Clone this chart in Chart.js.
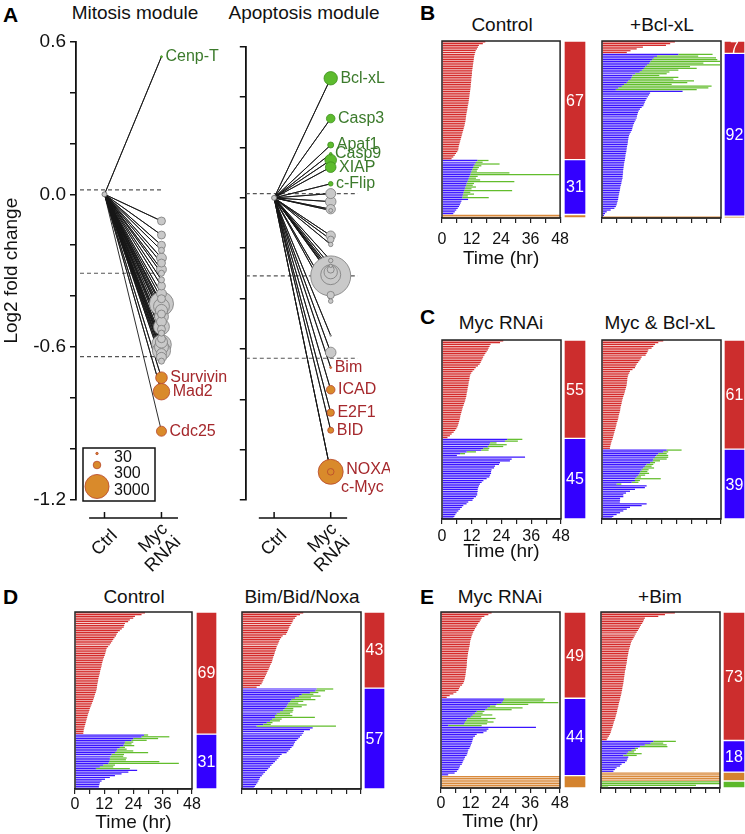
<!DOCTYPE html>
<html>
<head>
<meta charset="utf-8">
<script src="https://cdn.jsdelivr.net/npm/chart.js@4.4.0/dist/chart.umd.min.js"></script>
<style>
  body { margin: 0; background: #fff; font-family: 'Liberation Sans', Arial, Helvetica, sans-serif; }
  #page { position: relative; width: 745px; height: 834px; overflow: hidden; background: #fff; }
  .t { position: absolute; white-space: nowrap; color: #111; font-size: 19px; line-height: 1; transform: translate(-50%, -50%); }
  .p { position: absolute; white-space: nowrap; color: #000; font-size: 21px; font-weight: bold; line-height: 1; transform: translateY(-50%); }
  canvas { position: absolute; }
</style>
</head>
<body>
<div id="page">
  <div class="p" style="left:3px; top:14px;">A</div>
  <div class="t" style="left:135px; top:12px;">Mitosis module</div>
  <div class="t" style="left:304px; top:12px;">Apoptosis module</div>

  <div class="p" style="left:420px; top:12px;">B</div>
  <div class="t" style="left:502px; top:24px;">Control</div>
  <div class="t" style="left:662px; top:24px;">+Bcl-xL</div>

  <div class="p" style="left:420px; top:316px;">C</div>
  <div class="t" style="left:501px; top:322px;">Myc RNAi</div>
  <div class="t" style="left:660px; top:322px;">Myc &amp; Bcl-xL</div>

  <div class="p" style="left:3px; top:596px;">D</div>
  <div class="t" style="left:134px; top:596px;">Control</div>
  <div class="t" style="left:302px; top:596px;">Bim/Bid/Noxa</div>

  <div class="p" style="left:420px; top:596px;">E</div>
  <div class="t" style="left:500px; top:596px;">Myc RNAi</div>
  <div class="t" style="left:660px; top:596px;">+Bim</div>
</div>
<script>
// ---------- panel A: log2 fold change after Myc RNAi ----------
const groups = ['Ctrl', 'Myc RNAi'];
const yLabelTicks = [0.6, 0.0, -0.6, -1.2];
const thresholds = [0.017, -0.31, -0.637];
const legendSizes = [30, 300, 3000];

const mitoUpNames = ['Cenp-T'];
const mitoUpValues = [0.54];
const mitoUpSizes = [20];
const mitoMidValues = [-0.105, -0.16, -0.2, -0.22, -0.25, -0.27, -0.295, -0.31, -0.336, -0.36,
  -0.39, -0.41, -0.43, -0.44, -0.456, -0.47, -0.48, -0.5, -0.52, -0.53,
  -0.545, -0.567, -0.58, -0.59, -0.6, -0.614, -0.625, -0.64, -0.655];
const mitoMidSizes = [330, 330, 330, 190, 500, 330, 500, 190, 190, 330,
  500, 330, 3000, 1300, 750, 330, 1000, 500, 1300, 330,
  190, 330, 750, 2000, 1000, 1700, 500, 500, 190];
const mitoDownNames = ['Survivin', 'Mad2', 'Cdc25'];
const mitoDownValues = [-0.72, -0.775, -0.93];
const mitoDownSizes = [700, 1400, 520];

const apopUpNames = ['Bcl-xL', 'Casp3', 'Apaf1', 'Casp9', '', 'XIAP', 'c-Flip'];
const apopUpValues = [0.475, 0.315, 0.21, 0.175, 0.15, 0.122, 0.056];
const apopUpSizes = [925, 380, 186, 35, 700, 580, 110];
const apopMidValues = [0.017, -0.015, -0.045, -0.05, -0.15, -0.165, -0.185, -0.249, -0.31, -0.305,
  -0.295, -0.285, -0.27, -0.386, -0.41, -0.547, -0.614];
const apopMidSizes = [516, 580, 450, 80, 450, 225, 100, 100, 8264, 2066,
  925, 250, 60, 280, 110, 13, 580];
const apopDownNames = ['Bim', 'ICAD', 'E2F1', 'BID', 'NOXA', 'c-Myc'];
const apopDownValues = [-0.674, -0.762, -0.853, -0.923, -1.088, -1.088];
const apopDownSizes = [20, 380, 280, 186, 3230, 225];

// ---------- panels B-E: single cell fates (hours), one row per cell ----------
const bCtrlRed = [17.6,16.6,15.0,14.6,14.2,13.7,13.5,13.3,13.1,13.0,12.9,12.8,12.7,12.6,12.5,12.4,12.3,12.2,12.2,12.1,
  12.0,11.9,11.9,11.8,11.7,11.7,11.6,11.5,11.4,11.3,11.2,11.1,11.0,10.9,10.8,10.7,10.5,10.4,10.3,10.2,
  10.0,9.9,9.8,9.7,9.6,9.5,9.3,9.2,9.0,8.8,8.6,8.4,8.2,8.0,7.8,7.6,7.4,7.2,7.0,6.8,6.7,6.6,6.2,5.7,5.2,4.6,3.9];
const bCtrlBlue = [14.4,13.8,13.3,12.9,12.6,12.3,12.0,11.7,11.5,11.2,10.9,10.6,10.3,10.0,9.8,9.5,9.3,9.0,8.8,8.6,
  8.4,8.2,10.6,7.9,7.6,7.3,6.9,6.4,5.8,5.2,4.6];
const bCtrlGreen = [18.9,16.5,23.4,16.0,15.0,14.5,14.2,27.4,47.6,14.5,13.8,15.5,29.4,13.0,12.5,13.8,12.0,28.5,11.5,13.0,
  10.5,19.0];
const bCtrlOrange = [48, 48];

const bBclRed = [29.4, 27.5, 25.8, 16.5, 14.0, 11.5, 10.0];
const bBclBlue = [30.8,22.2,20.9,20.2,19.5,19.1,18.2,17.5,16.9,16.1,15.2,13.4,12.3,12.0,11.6,10.6,10.0,8.9,8.0,6.6,5.6,
  32.5,19.4,19.0,18.5,18.0,17.6,17.3,17.0,16.7,16.0,15.3,14.8,14.5,14.3,14.1,14.0,13.6,13.2,12.9,12.6,12.4,
  12.2,12.0,11.6,11.2,10.9,10.7,10.6,10.5,10.4,10.3,10.1,10.0,9.9,9.8,9.6,9.5,9.4,9.3,9.2,9.0,
  8.9,8.8,8.7,8.6,8.5,8.5,8.4,8.3,8.3,8.1,7.9,7.8,7.6,7.4,7.3,7.2,7.0,6.9,6.7,6.6,
  6.5,6.3,6.1,5.9,5.6,5.0,3.5,1.9,1.2,0.8];
const bBclGreen = [44.6,38.8,46.0,46.5,47.6,40.9,47.6,35.5,38.2,30.8,27.2,26.1,23.1,30.8,28.8,37.1,34.4,28.1,44.2,42.9,38.2];
const bBclOrange = [48];

const cMycRed = [24.7,23.4,19.6,19.2,18.8,18.5,18.0,17.5,17.1,16.6,16.3,15.9,15.6,15.2,14.5,13.6,13.0,12.3,11.8,11.4,
  11.2,11.1,11.0,10.8,10.7,10.6,10.4,10.3,10.2,10.0,9.9,9.8,9.6,9.4,9.2,8.9,8.7,8.4,8.2,8.0,
  7.8,7.6,7.4,7.3,7.1,6.9,6.7,6.5,6.2,5.8,5.3,4.7,3.9,3.2,2.2];
const cMycBlue = [26.3,25.4,19.4,19.0,18.5,16.7,15.8,9.9,7.3,6.0,33.5,28.1,27.4,23.4,23.0,21.4,21.0,20.0,19.8,19.8,
  19.4,19.1,18.0,16.7,16.0,15.3,14.9,14.6,14.4,14.4,14.2,14.2,13.7,12.8,12.3,10.6,9.9,8.6,8.0,7.3,
  6.6,5.9,5.4,5.0,4.6];
const cMycGreen = [32.4,30.6,22.0,26.1,24.7,19.1,18.8,13.7,9.3];

const cBclRed = [24.7,22.7,21.4,20.7,20.0,18.7,18.4,18.0,17.6,16.0,15.6,15.1,14.6,14.0,13.6,13.3,12.3,11.3,11.0,10.6,
  10.4,10.2,10.2,10.1,10.0,9.9,9.7,9.5,9.3,9.1,8.9,8.6,8.4,8.2,8.0,7.9,7.7,7.5,7.4,7.3,
  7.1,6.9,6.7,6.6,6.4,6.2,5.9,5.8,5.6,5.4,5.2,5.0,4.8,4.6,4.4,4.2,3.9,3.7,3.5,3.3,3.2];
const cBclBlue = [26.1,24.7,22.7,22.0,21.4,20.7,20.5,19.4,18.0,17.4,16.7,16.0,15.4,15.1,14.7,14.0,13.3,13.3,12.0,5.9,
  18.0,17.3,13.3,11.3,9.7,8.6,8.6,7.3,7.3,7.2,18.0,16.0,11.3,10.0,8.6,7.3,5.9,4.6,4.0];
const cBclGreen = [32.1,26.7,26.1,26.7,26.7,26.1,23.4,21.4,20.7,20.0,21.0,18.8,18.3,19.0,17.4,15.7,23.7,15.3,14.7,7.8];

const dCtrlRed = [28.7,27.3,24.6,23.9,22.5,21.8,20.5,20.2,20.0,19.2,18.4,17.6,17.1,16.8,16.2,15.7,15.3,14.8,14.3,13.6,
  13.0,12.8,12.6,12.4,12.2,11.9,11.6,11.4,11.2,11.0,10.9,10.7,10.5,10.3,10.2,10.0,9.8,9.6,9.5,9.4,
  9.2,9.1,9.0,8.9,8.7,8.5,8.2,8.0,7.8,7.5,7.3,7.0,6.7,6.4,6.1,5.9,5.7,5.4,5.2,5.0,
  4.8,4.6,4.4,4.2,4.0,3.8,3.6,3.5,3.4];
const dCtrlBlue = [28.3,27.3,23.9,23.2,20.5,20.2,19.9,18.4,17.4,17.1,16.4,15.0,14.6,14.3,14.3,14.0,13.7,11.6,10.2,8.6,
  25.5,21.9,19.1,16.4,14.3,12.3,10.9,10.2,10.0,9.8,9.8];
const dCtrlGreen = [30.0,38.7,34.1,29.4,23.9,23.2,24.3,20.5,21.2,23.9,30.0,20.1,19.8,21.2,20.9,34.6,42.6,16.4,15.7,22.5];

const dBimRed = [24.7,23.4,22.0,21.4,20.7,20.4,20.0,19.6,19.1,18.8,18.5,18.2,17.8,16.4,15.8,15.3,15.0,14.7,14.4,14.0,
  13.8,13.6,13.3,13.1,12.9,12.6,12.4,12.2,12.0,11.6,11.3,11.0,10.7,10.3,10.0,9.7,9.3,9.0,8.6,8.3,
  7.9,7.2,5.9];
const dBimBlue = [30.1,29.6,27.4,24.1,23.0,21.4,20.0,19.4,18.7,18.3,18.0,17.3,16.6,15.3,14.0,13.3,13.3,12.2,11.3,10.0,8.6,5.9,
  28.5,27.4,25.0,24.7,24.1,23.4,22.7,22.0,21.4,21.0,20.7,20.0,19.4,18.7,18.0,16.0,15.3,14.7,14.0,13.3,
  12.6,11.9,11.3,10.6,10.0,9.3,8.6,8.0,7.3,7.0,6.6,6.2,5.7,5.2,4.8];
const dBimGreen = [36.8,33.5,30.8,28.8,31.7,27.8,29.6,24.7,22.7,26.1,24.1,20.7,20.7,20.4,19.4,20.3,29.4,16.0,15.3,12.3,11.6,37.9];

const eMycRed = [20.4,19.1,17.5,16.4,16.0,15.6,15.0,14.6,14.2,13.7,13.4,13.0,12.7,12.4,12.2,12.0,11.8,11.7,11.6,11.5,
  11.3,11.2,11.0,10.9,10.8,10.7,10.6,10.5,10.5,10.4,10.4,10.3,10.2,10.1,10.0,9.9,9.8,9.7,9.5,9.3,
  9.0,8.5,7.7,7.3,7.0,6.2,5.0,3.5,2.3];
const eMycBlue = [25.4,25.0,24.5,22.5,19.8,18.8,18.0,14.4,13.7,12.8,12.0,10.6,10.2,9.7,9.3,2.9,
  38.3,19.1,18.4,17.1,14.4,13.7,13.0,12.8,12.6,12.4,12.1,11.8,11.5,11.0,10.8,10.6,10.3,9.7,9.4,9.0,
  8.7,8.4,7.7,7.4,7.0,6.4,5.5,2.9];
const eMycGreen = [41.9,41.3,47.3,35.2,22.0,32.9,28.5,17.5,16.8,20.7,16.2,22.0,18.8,21.2,18.6,16.4];
const eMycOrange = [48, 48, 48, 48, 48, 48, 48];

const eBimRed = [29.8,25.8,23.1,17.7,17.3,17.0,16.6,16.1,15.7,15.3,14.9,14.4,14.0,13.6,13.2,12.8,12.4,12.1,11.9,11.7,
  11.5,11.3,11.1,11.0,10.9,10.7,10.6,10.5,10.4,10.3,10.1,10.0,9.9,9.7,9.6,9.5,9.4,9.3,9.2,9.1,
  9.0,8.9,8.7,8.6,8.5,8.3,8.2,8.0,7.8,7.7,7.5,7.3,7.1,7.0,6.8,6.6,6.5,6.3,6.1,5.9,
  5.7,5.5,5.2,5.0,4.8,4.6,4.3,4.1,3.9,3.6,3.2,2.7,2.3];
const eBimBlue = [21.1,20.0,17.7,15.7,13.7,12.4,11.0,10.4,9.0,11.0,10.7,10.4,9.7,8.3,7.7,6.3,5.6,5.0];
const eBimGreen = [30.2,25.1,26.5,26.8,14.9,14.1,13.4,16.4,14.4];
const eBimOrange = [48, 48, 48, 48, 48];
const eBimLate = [48, 48, 38.3, 2.9];

// percentages (red, blue, orange, green)
const bCtrlPct = [67, 31, 2];
const bBclPct = [7, 92, 1];
const cMycPct = [55, 45];
const cBclPct = [61, 39];
const dCtrlPct = [69, 31];
const dBimPct = [43, 57];
const eMycPct = [49, 44, 7];
const eBimPct = [73, 18, 5, 4];

// ---------- drawing ----------
const FONT = "'Liberation Sans', Arial, Helvetica, sans-serif";
Chart.defaults.font.family = FONT;
Chart.defaults.color = '#111';

const GRAY = '#c9c9c9', GRAY_EDGE = '#7a7a7a';
const GREEN = '#5dbb2e', GREEN_EDGE = '#3d8f1d', GREEN_TEXT = '#3b7a2b';
const ORANGE = '#d98a2b', ORANGE_EDGE = '#b8462c', RED_TEXT = '#a5282c';
const ROW = { red: '#d42a2a', blue: '#3a14ff', green: '#62bd2c', orange: '#d98a3c' };
const PCT = ['#cc2d2d', '#3300ff', '#d4832e', '#5cb82a'];

const radius = s => 0.22 * Math.sqrt(s);
const page = document.getElementById('page');

function addCanvas(left, top, w, h) {
  const c = document.createElement('canvas');
  c.width = w; c.height = h;
  c.style.left = left + 'px'; c.style.top = top + 'px';
  c.style.width = w + 'px'; c.style.height = h + 'px';
  page.appendChild(c);
  return c;
}

function bubbles(values, sizes, fill, edge) {
  const pts = values.map((v, i) => ({ x: 1, y: v, r: radius(sizes[i]) }));
  pts.sort((a, b) => b.r - a.r);
  return { type: 'bubble', data: pts, backgroundColor: fill, borderColor: edge, borderWidth: 0.8, order: 1 };
}

// gene names next to the Myc RNAi points
const labelNudge = { 'NOXA': [0, -2], 'c-Myc': [4, 16] };
const geneLabels = {
  id: 'geneLabels',
  afterDatasetsDraw(chart, args, opts) {
    const { ctx, scales: { x, y } } = chart;
    ctx.save();
    ctx.font = '16px ' + FONT;
    ctx.textAlign = 'left';
    ctx.textBaseline = 'middle';
    opts.items.forEach(it => {
      if (!it.name) return;
      const n = labelNudge[it.name] || [0, 0];
      ctx.fillStyle = it.color;
      ctx.fillText(it.name, x.getPixelForValue(1) + radius(it.size) + 3 + n[0], y.getPixelForValue(it.value) + n[1]);
    });
    ctx.restore();
  }
};

// x axis drawn below the plot, offset from the y range
const detachedAxis = {
  id: 'detachedAxis',
  afterDraw(chart) {
    const { ctx, chartArea, scales: { x } } = chart;
    const yb = chartArea.bottom + 18;
    ctx.save();
    ctx.strokeStyle = '#111';
    ctx.lineWidth = 1.5;
    ctx.beginPath();
    ctx.moveTo(x.getPixelForValue(-0.27), yb);
    ctx.lineTo(x.getPixelForValue(1.29), yb);
    groups.forEach((g, i) => {
      const px = x.getPixelForValue(i);
      ctx.moveTo(px, yb);
      ctx.lineTo(px, yb - 6);
    });
    ctx.stroke();
    ctx.fillStyle = '#111';
    ctx.font = '18px ' + FONT;
    ctx.textAlign = 'right';
    ctx.textBaseline = 'middle';
    groups.forEach((g, i) => {
      const lines = g.split(' ');
      ctx.save();
      ctx.translate(x.getPixelForValue(i) + 10, yb + 15);
      ctx.rotate(-Math.PI / 4);
      lines.forEach((ln, k) => ctx.fillText(ln, 0, (k - (lines.length - 1) / 2) * 18.4));
      ctx.restore();
    });
    ctx.restore();
  }
};

const sizeLegend = {
  id: 'sizeLegend',
  afterDraw(chart, args, opts) {
    if (!opts.show) return;
    const { ctx, chartArea: a } = chart;
    const L = a.left + 7, T = a.bottom - 52;
    ctx.save();
    ctx.fillStyle = '#fff';
    ctx.fillRect(L, T, 72, 53);
    ctx.strokeStyle = '#111';
    ctx.lineWidth = 1.5;
    ctx.strokeRect(L, T, 72, 53);
    const cy = [5.5, 17, 38.5], ty = [9.5, 25.5, 42.5];
    ctx.font = '16px ' + FONT;
    ctx.textBaseline = 'middle';
    legendSizes.forEach((s, i) => {
      ctx.beginPath();
      ctx.arc(L + 14, T + cy[i], radius(s), 0, Math.PI * 2);
      ctx.fillStyle = ORANGE;
      ctx.fill();
      ctx.strokeStyle = ORANGE_EDGE;
      ctx.lineWidth = 0.8;
      ctx.stroke();
      ctx.fillStyle = '#111';
      ctx.fillText(String(s), L + 31, T + ty[i]);
    });
    ctx.restore();
  }
};

function moduleChart(o) {
  const cv = addCanvas(o.left, 26, o.width, 564);
  const all = [...o.up, ...o.mid, ...o.down];
  const zig = [];
  all.forEach(v => { zig.push({ x: 0, y: 0 }); zig.push({ x: 1, y: v }); });
  const dashSets = thresholds.map(t => ({
    type: 'line', data: [{ x: o.dashX[0], y: t }, { x: o.dashX[1], y: t }],
    borderColor: '#555', borderWidth: 1.2, borderDash: [4, 3], pointRadius: 0, order: 4
  }));
  const items = [
    ...o.upNames.map((n, i) => ({ name: n, value: o.up[i], size: o.upSizes[i], color: GREEN_TEXT })),
    ...o.downNames.map((n, i) => ({ name: n, value: o.down[i], size: o.downSizes[i], color: RED_TEXT }))
  ];
  new Chart(cv, {
    type: 'bubble',
    data: {
      datasets: [
        ...dashSets,
        { type: 'line', data: zig, borderColor: '#161616', borderWidth: 0.9, pointRadius: 0, tension: 0, order: 3 },
        bubbles(o.mid, o.midSizes, GRAY, GRAY_EDGE),
        bubbles(o.up, o.upSizes, GREEN, GREEN_EDGE),
        bubbles(o.down, o.downSizes, ORANGE, ORANGE_EDGE),
        { type: 'bubble', data: [{ x: 0, y: 0, r: 2.5 }], backgroundColor: GRAY, borderColor: '#666', borderWidth: 0.8, order: 0 }
      ]
    },
    options: {
      responsive: false, animation: false, devicePixelRatio: 1,
      layout: { padding: { left: o.padLeft, right: o.padRight, top: 15, bottom: 90 } },
      plugins: {
        legend: { display: false }, tooltip: { enabled: false },
        geneLabels: { items },
        sizeLegend: { show: o.legend }
      },
      scales: {
        x: { type: 'linear', min: -0.5, max: 1.65, display: false },
        y: {
          min: -1.2, max: 0.6,
          ticks: {
            stepSize: 0.2, autoSkip: false, display: o.yLabels, font: { size: 19 }, padding: 4, color: '#111',
            callback: v => yLabelTicks.some(t => Math.abs(t - v) < 1e-6) ? (Math.abs(v) < 1e-9 ? '0.0' : v.toFixed(1)) : ''
          },
          grid: { drawOnChartArea: false, drawTicks: true, tickLength: 6, color: '#111', lineWidth: 1.5 },
          border: { display: true, color: '#111', width: 1.8 },
          title: { display: o.yLabels, text: 'Log2 fold change', font: { size: 19 }, padding: 0, color: '#111' },
          afterFit: s => { s.width = o.yWidth; }
        }
      }
    },
    plugins: [geneLabels, detachedAxis, sizeLegend]
  });
}

moduleChart({
  left: 0, width: 240, padLeft: 0, padRight: 41.5, yWidth: 76, yLabels: true, legend: true,
  dashX: [-0.43, 1.03],
  up: mitoUpValues, upSizes: mitoUpSizes, upNames: mitoUpNames,
  mid: mitoMidValues, midSizes: mitoMidSizes,
  down: mitoDownValues, downSizes: mitoDownSizes, downNames: mitoDownNames
});
moduleChart({
  left: 225, width: 165, padLeft: 10, padRight: 22.5, yWidth: 10, yLabels: false, legend: false,
  dashX: [-0.5, 1.48],
  up: apopUpValues, upSizes: apopUpSizes, upNames: apopUpNames,
  mid: apopMidValues, midSizes: apopMidSizes,
  down: apopDownValues, downSizes: apopDownSizes, downNames: apopDownNames
});

// ---------- cell fate plots ----------
const frame = {
  id: 'frame',
  afterDatasetsDraw(chart) {
    const { ctx, chartArea: a } = chart;
    ctx.save();
    ctx.strokeStyle = '#222';
    ctx.lineWidth = 1.5;
    ctx.strokeRect(a.left, a.top, a.right - a.left, a.bottom - a.top);
    ctx.restore();
  }
};

function rowSet(rows, color, pick) {
  return {
    data: rows.map(pick), backgroundColor: color, borderWidth: 0,
    grouped: false, barPercentage: 0.7, categoryPercentage: 1
  };
}

function fateChart(box, ax, red, blue, green, orange, late, showLabels) {
  const padL = 15, padR = 15, padT = 2, padB = 2;
  const cv = addCanvas(box.x - padL, box.y - padT, box.w + padL + padR, box.h + padT + ax.h + padB);
  const rows = [];
  red.forEach(v => rows.push({ k: 'red', b: v }));
  blue.forEach((v, j) => rows.push({ k: 'blue', b: v, g: green[j] || 0 }));
  orange.forEach(v => rows.push({ k: 'orange', b: v }));
  late.forEach(v => rows.push({ k: 'late', b: v }));
  new Chart(cv, {
    type: 'bar',
    data: {
      labels: rows.map((r, i) => i + 1),
      datasets: [
        rowSet(rows, ROW.red, r => r.k === 'red' ? [0, r.b] : null),
        rowSet(rows, ROW.blue, r => r.k === 'blue' ? [0, r.b] : null),
        rowSet(rows, ROW.green, r => r.k === 'blue' && r.g > r.b ? [r.b, r.g] : (r.k === 'late' ? [0, r.b] : null)),
        rowSet(rows, ROW.orange, r => r.k === 'orange' ? [0, r.b] : null)
      ]
    },
    options: {
      indexAxis: 'y', responsive: false, animation: false, devicePixelRatio: 1,
      layout: { padding: { left: padL, right: padR, top: padT, bottom: padB } },
      plugins: { legend: { display: false }, tooltip: { enabled: false } },
      scales: {
        y: { type: 'category', display: false },
        x: {
          type: 'linear', min: 0, max: 48,
          ticks: {
            stepSize: 6, autoSkip: false, maxRotation: 0, font: { size: 16 }, padding: ax.pad, color: '#111',
            callback: v => showLabels && v % 12 === 0 ? String(v) : ''
          },
          grid: { drawOnChartArea: false, drawTicks: true, tickLength: 5, color: '#222', lineWidth: 1.2 },
          border: { display: true, color: '#222', width: 1.5 },
          title: { display: showLabels, text: 'Time (hr)', font: { size: 19 }, padding: { top: 0, bottom: 0 }, color: '#111' },
          afterFit: s => { s.height = ax.h; }
        }
      }
    },
    plugins: [frame]
  });
}

const pctLabels = {
  id: 'pctLabels',
  afterDatasetsDraw(chart) {
    const { ctx } = chart;
    ctx.save();
    ctx.fillStyle = '#fff';
    ctx.font = '16px ' + FONT;
    ctx.textAlign = 'center';
    ctx.textBaseline = 'middle';
    [0, 1].forEach(i => {
      const ds = chart.data.datasets[i];
      const el = chart.getDatasetMeta(i).data[0];
      if (!ds || !el) return;
      ctx.fillText(String(ds.data[0]), el.x, (el.y + el.base) / 2 + 1);
    });
    ctx.restore();
  }
};

function pctChart(x, w, box, values) {
  const cv = addCanvas(x, box.y, w, box.h);
  const total = values.reduce((a, b) => a + b, 0);
  new Chart(cv, {
    type: 'bar',
    data: {
      labels: [''],
      datasets: values.map((v, i) => ({
        data: [v], backgroundColor: PCT[i], borderColor: 'rgba(255,255,255,0.6)', borderWidth: 1,
        borderSkipped: false, barPercentage: 1, categoryPercentage: 1
      }))
    },
    options: {
      responsive: false, animation: false, devicePixelRatio: 1,
      layout: { padding: 0 },
      plugins: { legend: { display: false }, tooltip: { enabled: false } },
      scales: {
        x: { display: false, stacked: true },
        y: { display: false, stacked: true, min: 0, max: total, reverse: true }
      }
    },
    plugins: [pctLabels]
  });
}

const axB = { pad: 7, h: 52 }, axC = { pad: 3, h: 44 }, axD = { pad: 1, h: 45 };
const boxB1 = { x: 442, y: 41, w: 119, h: 177 }, boxB2 = { x: 602, y: 41, w: 119, h: 177 };
const boxC1 = { x: 442, y: 340, w: 119, h: 179 }, boxC2 = { x: 602, y: 340, w: 119, h: 179 };
const boxD1 = { x: 75, y: 612, w: 117, h: 177 }, boxD2 = { x: 242, y: 612, w: 119, h: 177 };
const boxE1 = { x: 441, y: 612, w: 119, h: 176 }, boxE2 = { x: 601, y: 612, w: 119, h: 176 };

fateChart(boxB1, axB, bCtrlRed, bCtrlBlue, bCtrlGreen, bCtrlOrange, [], true);
fateChart(boxB2, axB, bBclRed, bBclBlue, bBclGreen, bBclOrange, [], false);
fateChart(boxC1, axC, cMycRed, cMycBlue, cMycGreen, [], [], true);
fateChart(boxC2, axC, cBclRed, cBclBlue, cBclGreen, [], [], false);
fateChart(boxD1, axD, dCtrlRed, dCtrlBlue, dCtrlGreen, [], [], true);
fateChart(boxD2, axD, dBimRed, dBimBlue, dBimGreen, [], [], false);
fateChart(boxE1, axD, eMycRed, eMycBlue, eMycGreen, eMycOrange, [], true);
fateChart(boxE2, axD, eBimRed, eBimBlue, eBimGreen, eBimOrange, eBimLate, false);

pctChart(564, 22, boxB1, bCtrlPct);
pctChart(724, 21, boxB2, bBclPct);
pctChart(564, 22, boxC1, cMycPct);
pctChart(724, 21, boxC2, cBclPct);
pctChart(196, 21, boxD1, dCtrlPct);
pctChart(364, 21, boxD2, dBimPct);
pctChart(564, 22, boxE1, eMycPct);
pctChart(723, 22, boxE2, eBimPct);
</script>
</body>
</html>
